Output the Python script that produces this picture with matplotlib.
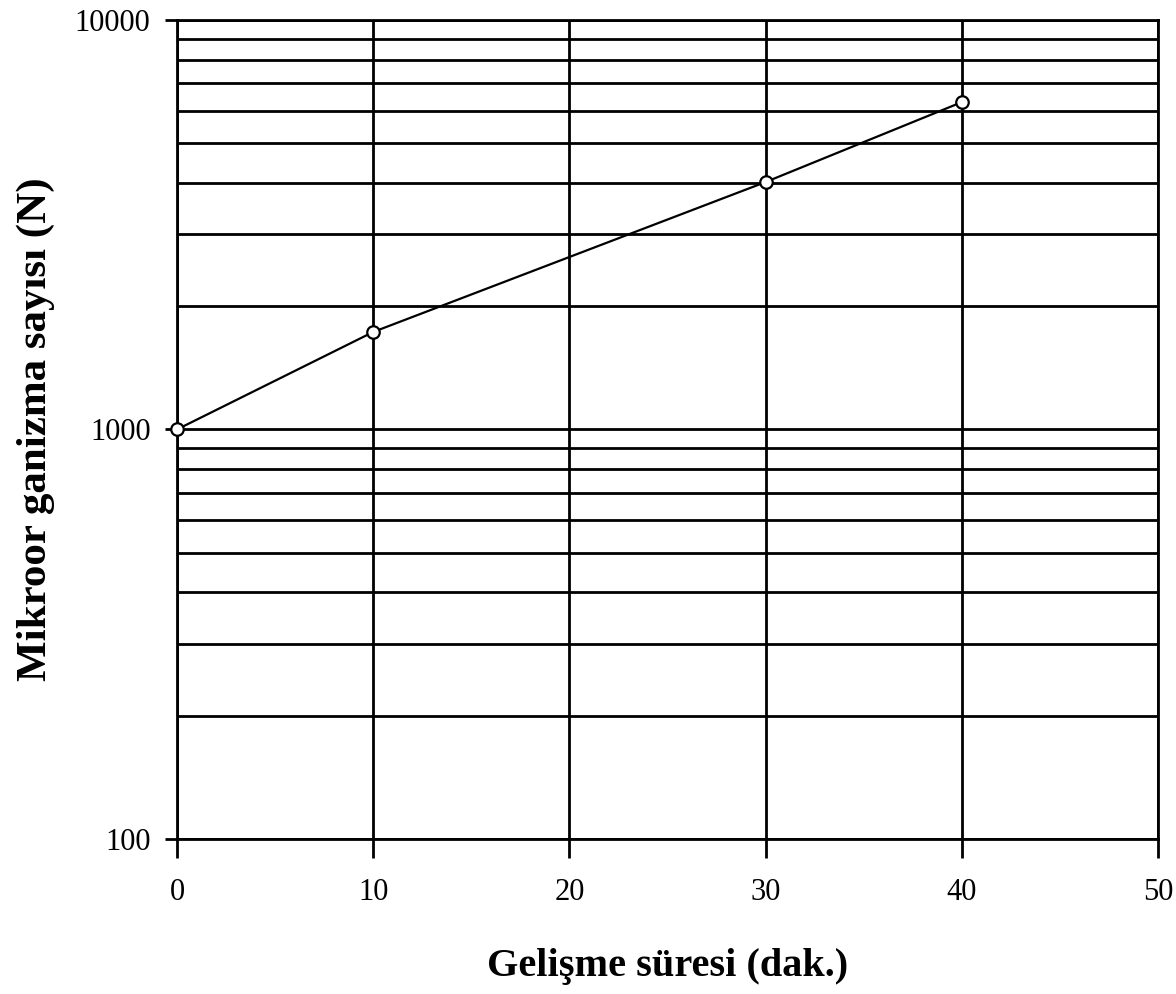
import matplotlib.pyplot as plt
from matplotlib.ticker import FixedLocator, NullFormatter, FixedFormatter

# growth time (min) vs microorganism count
sure = [0, 10, 30, 40]
sayi = [1000, 1730, 4020, 6300]

x_ticks = [0, 10, 20, 30, 40, 50]
y_ticks = [100, 1000, 10000]
y_labels = ['100', '1000', '10000']

plt.rcParams['font.family'] = ['Liberation Serif', 'DejaVu Serif']

fig = plt.figure(figsize=(11.76, 9.94), dpi=100)
ax = fig.add_axes([0.1505, 0.156, 0.8342, 0.8239])

ax.set_yscale('log')
ax.set_xlim(0, 50)
ax.set_ylim(100, 10000)

# grid: major x lines, major + minor y lines
minor = [m * 10 ** e for e in (2, 3) for m in range(2, 10)]
ax.yaxis.set_major_locator(FixedLocator(y_ticks))
ax.yaxis.set_major_formatter(FixedFormatter(y_labels))
ax.yaxis.set_minor_locator(FixedLocator(minor))
ax.yaxis.set_minor_formatter(NullFormatter())
ax.set_xticks(x_ticks)

ax.grid(True, which='major', color='black', linewidth=2)
ax.grid(True, which='minor', axis='y', color='black', linewidth=2)
ax.set_axisbelow(True)

for s in ax.spines.values():
    s.set_linewidth(2)

ax.tick_params(axis='both', which='major', direction='out', width=2,
               labelsize=22, color='black')
ax.tick_params(axis='y', which='major', length=9, pad=10)
ax.tick_params(axis='x', which='major', length=14, pad=14)
ax.tick_params(axis='y', which='minor', length=0)

ax.plot(sure, sayi, color='black', linewidth=1.6, marker='o',
        markersize=9, markerfacecolor='white', markeredgecolor='black',
        markeredgewidth=1.6, clip_on=False, zorder=5)

ax.set_xlabel('Gelişme süresi (dak.)', fontsize=29, fontweight='bold',
              labelpad=30)
ax.set_ylabel('Mikroor ganizma sayısı (N)', fontsize=31, fontweight='bold',
              labelpad=14)

fig.savefig('out.png', dpi=100)
